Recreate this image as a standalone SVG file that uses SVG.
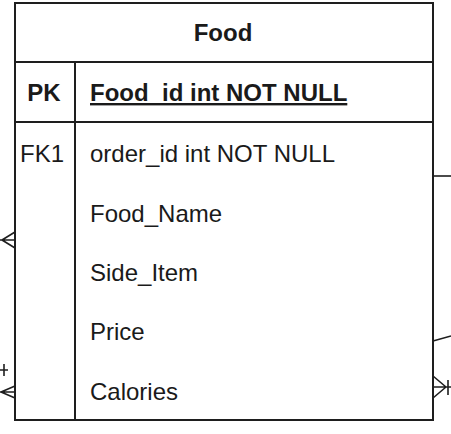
<svg xmlns="http://www.w3.org/2000/svg" width="451" height="434" viewBox="0 0 451 434">
<style>
.ln{fill:none;stroke:#1e1e1e;stroke-width:2}
.cn{fill:none;stroke:#1e1e1e;stroke-width:1.6}
.t{font-family:"Liberation Sans",Arial,sans-serif;font-size:24px;fill:#1a1a1a}
.b{font-weight:bold}
</style>
<rect width="451" height="434" fill="#ffffff"/>
<g id="connectors">
<path class="cn" d="M0 240H15M2 240L15 232M2 240L15 248"/>
<path class="cn" d="M0 370H8M4 364V376"/>
<path class="cn" d="M0 392H15M1 392L15 386M1 392L15 398"/>
<path class="cn" d="M433 176H451"/>
<path class="cn" d="M433 341L451 336"/>
<path class="cn" d="M433 387H451M446 387L433 376M446 387L433 398M448 380V395"/>
</g>
<g id="food">
<rect class="ln" x="15" y="3" width="418" height="417" fill="#ffffff"/>
<path class="ln" d="M15 62H433M15 122H433M75 62V420"/>
<text class="t b" x="223" y="41" text-anchor="middle">Food</text>
<text class="t b" x="44" y="101" text-anchor="middle">PK</text>
<text class="t b" x="90" y="101" text-decoration="underline">Food_id int NOT NULL</text>
<text class="t" x="42" y="162" text-anchor="middle">FK1</text>
<text class="t" x="90" y="162">order_id int NOT NULL</text>
<text class="t" x="90" y="222">Food_Name</text>
<text class="t" x="90" y="281">Side_Item</text>
<text class="t" x="90" y="340">Price</text>
<text class="t" x="90" y="400">Calories</text>
</g>
</svg>
